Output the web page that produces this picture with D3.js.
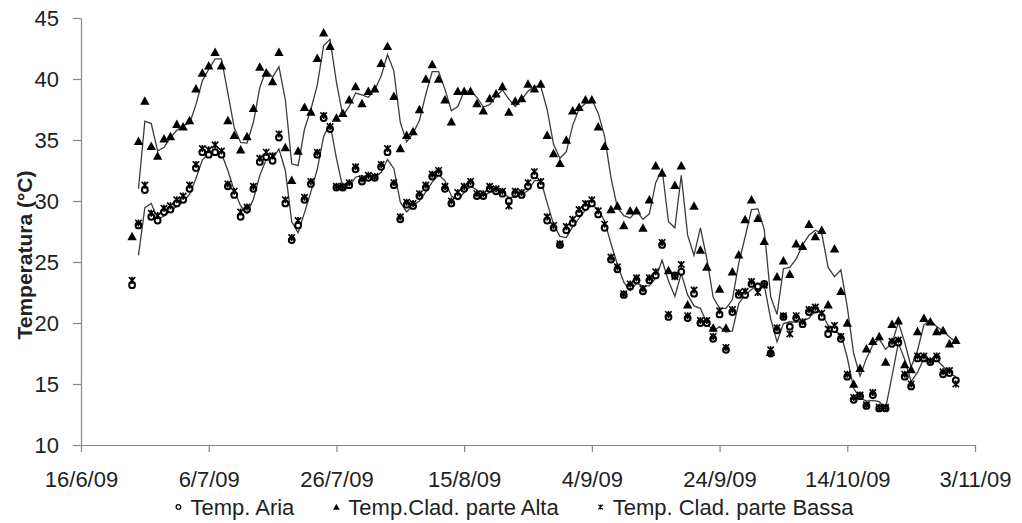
<!DOCTYPE html>
<html>
<head>
<meta charset="utf-8">
<script src="https://cdn.jsdelivr.net/npm/d3@7"></script>
<style>
  body { margin: 0; background: #fff; }
  text { font-family: "Liberation Sans", Arial, sans-serif; fill: #222; }
</style>
</head>
<body>
<div id="chart"></div>
<script>
// daily readings, first day 24/6/09, last day 31/10/09
var firstDay = "2009-06-24";

var tempAria = [
  23.1, 28.0, 30.9, 28.7, 28.4, 29.1, 29.3,
  29.8, 30.1, 31.0, 32.7, 34.0, 33.8, 34.0, 33.8, 31.2, 30.5,
  28.7, 29.3, 31.0, 33.2, 33.6, 33.3, 35.2, 29.8, 26.8, 28.0,
  30.1, 31.4, 33.8, 36.8, 35.9, 31.1, 31.1, 31.3, 32.6, 31.6, 31.9,
  31.9, 32.8, 34.0, 31.3, 28.5, 29.7, 29.6, 30.4, 31.1, 32.0,
  32.3, 31.0, 29.8, 30.4, 31.0, 31.4, 30.4, 30.4, 31.0, 30.8,
  30.6, 30.0, 30.6, 30.5, 31.2, 32.1, 31.3, 28.4, 27.8, 26.4, 27.6,
  28.2, 29.0, 29.5, 29.8, 28.9, 27.8, 25.2, 24.4, 22.3, 23.0,
  23.5, 22.6, 23.5, 23.9, 26.4, 20.5, 23.9, 24.2, 20.4, 22.4,
  20.0, 20.0, 18.7, 20.7, 17.8, 20.9, 22.3, 22.3, 23.2, 23.0,
  23.2, 17.5, 19.4, 20.5, 19.7, 20.4, 19.9, 20.9, 21.1, 20.5,
  19.1, 19.5, 18.7, 15.6, 13.7, 14.0, 13.2, 14.1, 13.0, 13.0,
  18.3, 18.4, 15.6, 14.8, 17.1, 17.1, 16.8, 17.1, 15.8, 15.9, 15.3
];

var tempAlta = [
  27.1, 34.9, 38.2, 34.5, 33.7, 35.1, 35.3,
  36.3, 36.1, 36.6, 39.2, 40.5, 41.1, 42.2, 41.1, 36.6, 35.4,
  34.2, 35.3, 37.6, 41.0, 40.5, 39.8, 42.2, 34.4, 31.7, 34.1,
  37.7, 37.3, 41.7, 43.8, 42.7, 36.8, 37.2, 38.3, 39.4, 38.0, 39.0,
  39.2, 41.3, 42.7, 38.6, 34.3, 35.4, 35.7, 37.5, 40.0, 41.2,
  40.0, 38.3, 36.5, 39.0, 39.0, 39.0, 38.0, 37.4, 38.4, 38.8,
  39.4, 37.3, 38.2, 38.4, 39.6, 39.2, 39.6, 35.4, 33.9, 33.1, 35.0,
  37.4, 37.7, 38.3, 38.3, 36.1, 34.5, 29.3, 29.6, 28.0, 29.2,
  29.2, 27.8, 30.1, 32.9, 32.3, 24.3, 31.3, 32.9, 21.5, 29.6,
  26.0, 24.6, 19.6, 22.8, 19.6, 24.2, 25.6, 28.5, 30.1, 28.6,
  26.7, 17.6, 23.8, 25.1, 24.0, 26.5, 26.3, 28.1, 27.1, 27.6,
  21.5, 26.1, 22.6, 20.0, 15.0, 16.3, 17.9, 18.5, 18.9, 16.8,
  19.9, 20.2, 16.6, 16.2, 19.3, 20.4, 20.1, 19.3, 19.4, 18.3, 18.6
];

var tempBassa = [
  23.5, 28.2, 31.3, 29.0, 28.8, 29.4, 29.6,
  30.1, 30.4, 31.3, 33.0, 34.3, 34.2, 34.6, 34.1, 31.4, 30.8,
  29.1, 29.5, 31.2, 33.5, 34.0, 33.7, 35.5, 30.1, 27.0, 28.4,
  30.3, 31.6, 34.0, 37.0, 36.1, 31.2, 31.2, 31.5, 32.8, 31.8, 32.1,
  32.0, 33.0, 34.3, 31.5, 28.7, 29.9, 29.8, 30.6, 31.3, 32.2,
  32.5, 31.2, 30.0, 30.7, 31.2, 31.6, 30.6, 30.6, 31.2, 31.0,
  30.8, 29.6, 30.8, 30.7, 31.5, 32.4, 31.6, 28.7, 28.0, 26.5, 27.9,
  28.5, 29.3, 29.8, 30.1, 29.2, 28.1, 25.4, 24.6, 22.4, 23.2,
  23.7, 22.8, 23.7, 24.2, 26.6, 20.7, 23.8, 24.8, 20.6, 22.7,
  20.2, 20.2, 18.9, 21.0, 18.0, 21.1, 22.5, 22.6, 23.4, 22.5,
  23.1, 17.8, 19.6, 20.6, 19.1, 20.6, 20.1, 21.1, 21.3, 20.8,
  19.5, 19.8, 18.9, 15.8, 13.9, 14.1, 13.3, 14.3, 13.1, 13.1,
  18.5, 18.6, 15.8, 15.0, 17.3, 17.3, 16.9, 17.3, 16.0, 16.1, 15.0
];

var xTicks = ["2009-06-16", "2009-07-06", "2009-07-26", "2009-08-15",
              "2009-09-04", "2009-09-24", "2009-10-14", "2009-11-03"];
var yTicks = [10, 15, 20, 25, 30, 35, 40, 45];
var seriesNames = ["Temp. Aria", "Temp.Clad. parte Alta", "Temp. Clad. parte Bassa"];
var yTitle = "Temperatura (\u00B0C)";

var W = 1022, H = 523;
var parse = d3.timeParse("%Y-%m-%d");
var fmt = d3.timeFormat("%-d/%-m/%y");
var start = parse(firstDay);
var days = tempAria.map(function(d, i) { return d3.timeDay.offset(start, i); });

var x = d3.scaleTime()
    .domain([parse(xTicks[0]), parse(xTicks[xTicks.length - 1])])
    .range([81, 975]);
var y = d3.scaleLinear().domain([10, 45]).range([445, 18]);

var svg = d3.select("#chart").append("svg")
    .attr("width", W)
    .attr("height", H);

// axes
var gx = svg.append("g")
    .attr("transform", "translate(0,445)")
    .call(d3.axisBottom(x).tickValues(xTicks.map(parse)).tickFormat(fmt)
      .tickSize(7).tickSizeOuter(0));
gx.selectAll("text").attr("y", 42).attr("dy", 0).style("font-size", "22px");

var gy = svg.append("g")
    .attr("transform", "translate(81,0)")
    .call(d3.axisLeft(y).tickValues(yTicks).tickSize(8).tickSizeOuter(0).tickPadding(14));
gy.selectAll("text").style("font-size", "22px").attr("dy", "0.35em");

svg.selectAll(".domain, .tick line").attr("stroke", "#868686").attr("stroke-width", 1.2);

svg.append("text")
    .attr("transform", "translate(32,255) rotate(-90)")
    .attr("text-anchor", "middle")
    .style("font-size", "21px")
    .style("font-weight", "bold")
    .text(yTitle);

// 2-period moving average trendlines
function movAvg(vals) {
  var out = [];
  for (var i = 1; i < vals.length; i++) out.push({d: days[i], v: (vals[i] + vals[i - 1]) / 2});
  return out;
}
var line = d3.line().x(function(p) { return x(p.d); }).y(function(p) { return y(p.v); });
[tempAlta, tempAria].forEach(function(vals) {
  svg.append("path")
      .datum(movAvg(vals))
      .attr("fill", "none")
      .attr("stroke", "#3c3c3c")
      .attr("stroke-width", 1.3)
      .attr("d", line);
});

// marker shapes
function triPath(s) { return "M0," + (-s * 0.55) + "L" + (s * 0.55) + "," + (s * 0.45) + "L" + (-s * 0.55) + "," + (s * 0.45) + "Z"; }
function starPath(s) {
  return "M" + (-s) + "," + (-s) + "L" + s + "," + s + "M" + s + "," + (-s) + "L" + (-s) + "," + s +
         "M0," + (-s * 1.1) + "L0," + (s * 1.1);
}

svg.append("g").selectAll("circle")
    .data(tempAria)
  .enter().append("circle")
    .attr("cx", function(d, i) { return x(days[i]); })
    .attr("cy", function(d) { return y(d); })
    .attr("r", 2.9)
    .attr("fill", "#fff")
    .attr("stroke", "#000")
    .attr("stroke-width", 2);

svg.append("g").selectAll("path")
    .data(tempAlta)
  .enter().append("path")
    .attr("transform", function(d, i) { return "translate(" + x(days[i]) + "," + y(d) + ")"; })
    .attr("d", triPath(8.5))
    .attr("fill", "#000");

svg.append("g").selectAll("path")
    .data(tempBassa)
  .enter().append("path")
    .attr("transform", function(d, i) { return "translate(" + x(days[i]) + "," + y(d) + ")"; })
    .attr("d", starPath(3.2))
    .attr("fill", "none")
    .attr("stroke", "#000")
    .attr("stroke-width", 1.6);

// legend
var legend = svg.append("g");
var items = legend.selectAll("g").data(seriesNames).enter().append("g");
items.append("text")
    .attr("x", 12)
    .attr("y", 515)
    .style("font-size", "22px")
    .text(function(d) { return d; });
var widths = [];
items.each(function() { widths.push(d3.select(this).select("text").node().getComputedTextLength() + 12); });
var gap = 42;
var total = d3.sum(widths) + gap * (widths.length - 1);
var pos = 516 - total / 2;
items.attr("transform", function(d, i) {
  var t = "translate(" + pos + ",0)";
  pos += widths[i] + gap;
  return t;
});
items.each(function(d, i) {
  var g = d3.select(this);
  if (i === 0) {
    g.append("circle").attr("cx", 0).attr("cy", 507).attr("r", 2.3)
      .attr("fill", "#fff").attr("stroke", "#000").attr("stroke-width", 1.3);
  } else if (i === 1) {
    g.append("path").attr("transform", "translate(0,507)").attr("d", triPath(6)).attr("fill", "#000");
  } else {
    g.append("path").attr("transform", "translate(0,507)").attr("d", starPath(2.3))
      .attr("stroke", "#000").attr("stroke-width", 1.1);
  }
});
</script>
</body>
</html>
